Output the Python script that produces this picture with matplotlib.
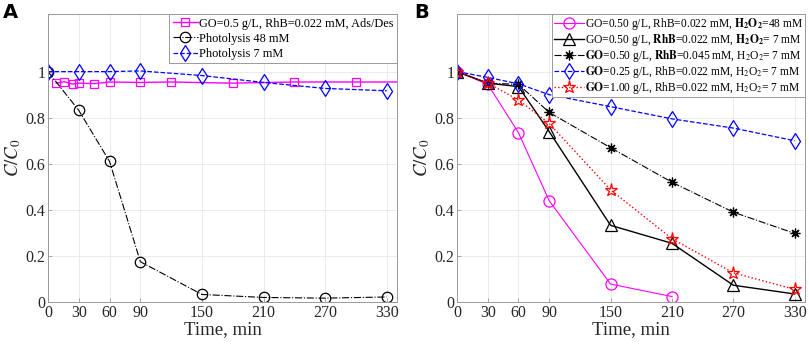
import numpy as np
import matplotlib
matplotlib.use('Agg')
import matplotlib.pyplot as plt

plt.rcParams['font.family'] = ['Liberation Serif', 'DejaVu Serif']
plt.rcParams['mathtext.fontset'] = 'stix'

# Panel A data
t_ads = [8, 16, 24, 30, 45, 60, 90, 120, 180, 240, 300, 360]
c_ads = [0.950, 0.956, 0.946, 0.950, 0.948, 0.955, 0.953, 0.955, 0.950, 0.955, 0.955, 0.955]
t_std = [0, 30, 60, 90, 150, 210, 270, 330]
c_phot48 = [1.0, 0.832, 0.61, 0.175, 0.033, 0.020, 0.017, 0.022]
c_phot7 = [1.0, 1.0, 1.0, 1.003, 0.983, 0.953, 0.927, 0.917]

# Panel B data
t_h48 = [0, 30, 60, 90, 150, 210]
c_h48 = [1.0, 0.945, 0.735, 0.44, 0.078, 0.024]
c_rhb022 = [1.0, 0.95, 0.935, 0.74, 0.333, 0.255, 0.073, 0.035]
c_rhb045 = [1.0, 0.95, 0.945, 0.823, 0.67, 0.52, 0.39, 0.298]
c_go025 = [1.0, 0.975, 0.947, 0.90, 0.848, 0.795, 0.755, 0.70]
c_go100 = [1.0, 0.95, 0.877, 0.775, 0.487, 0.275, 0.127, 0.055]

xticks = [0, 30, 60, 90, 150, 210, 270, 330]
yticks = [0, 0.2, 0.4, 0.6, 0.8, 1]

fig = plt.figure(figsize=(8.09, 3.46), dpi=100)
axA = fig.add_axes([0.0593, 0.127, 0.4314, 0.8325])
axB = fig.add_axes([0.565, 0.127, 0.430, 0.8325])


def style_axes(ax):
    ax.set_xlim(0, 340)
    ax.set_ylim(0, 1.25)
    ax.set_xticks(xticks)
    ax.set_yticks(yticks)
    ax.set_yticklabels(['0', '0.2', '0.4', '0.6', '0.8', '1'])
    ax.grid(True, color='#e8e8e8', linewidth=0.6)
    ax.set_axisbelow(True)
    for s in ax.spines.values():
        s.set_color('#9a9a9a')
        s.set_linewidth(0.7)
    ax.tick_params(direction='in', length=3, width=0.6, color='#9a9a9a',
                   labelsize=11.5, labelcolor='#262626', pad=2)
    ax.set_xlabel('Time, min', fontsize=13.5, color='#262626', labelpad=0)
    ax.set_ylabel('$C/C_0$', fontsize=13.5, color='#262626', labelpad=2)


def style_legend(leg):
    leg.get_frame().set_linewidth(0.7)
    leg.get_frame().set_alpha(1.0)


asterisk = (8, 2, 0)

# Panel A
axA.plot(t_ads, c_ads, '-s', color='#ff00ff', lw=1.0, ms=6, mfc='none', mew=0.9,
         label='GO=0.5 g/L, RhB=0.022 mM, Ads/Des')
axA.plot(t_std, c_phot48, '-.o', color='black', lw=0.8, ms=7.5, mfc='none', mew=0.9,
         label='Photolysis 48 mM')
axA.plot(t_std, c_phot7, '--d', color='#0000ff', lw=0.9, ms=8, mfc='none', mew=0.9,
         label='Photolysis 7 mM')
style_axes(axA)
legA = axA.legend(loc='upper right', fontsize=8.8, frameon=True, fancybox=False,
                  edgecolor='#9a9a9a', framealpha=1, borderpad=0.3, labelspacing=0.25,
                  handlelength=2.0, handletextpad=0.1, borderaxespad=0.0)
style_legend(legA)

# Panel B
axB.plot(t_h48, c_h48, '-o', color='#ff00ff', lw=0.8, ms=8, mfc='none', mew=0.9,
         label=r'GO=0.50 g/L, RhB=0.022 mM, $\mathbf{H_2O_2}$=48 mM')
axB.plot(t_std, c_rhb022, '-^', color='black', lw=1.0, ms=8.5, mfc='none', mew=0.9,
         label=r'GO=0.50 g/L, $\mathbf{RhB}$=0.022 mM, $\mathbf{H_2O_2}$= 7 mM')
axB.plot(t_std, c_rhb045, '-.', marker=asterisk, color='black', lw=0.8, ms=7, mew=0.9,
         label=r'$\mathbf{GO}$=0.50 g/L, $\mathbf{RhB}$=0.045 mM, H$_2$O$_2$= 7 mM')
axB.plot(t_std, c_go025, '--d', color='#0000ff', lw=0.9, ms=8, mfc='none', mew=0.9,
         label=r'$\mathbf{GO}$=0.25 g/L, RhB=0.022 mM, H$_2$O$_2$= 7 mM')
axB.plot(t_std, c_go100, ':*', color='#ff0000', lw=1.0, ms=9.5, mfc='none', mew=0.9,
         label=r'$\mathbf{GO}$=1.00 g/L, RhB=0.022 mM, H$_2$O$_2$= 7 mM')
style_axes(axB)
legB = axB.legend(loc='upper right', fontsize=8.3, frameon=True, fancybox=False,
                  edgecolor='#9a9a9a', framealpha=1, borderpad=0.15, labelspacing=0.0,
                  handlelength=2.6, handletextpad=0.1, borderaxespad=0.0)
style_legend(legB)

fig.text(0.004, 0.965, 'A', fontsize=14, fontweight='bold', family='DejaVu Sans',
         va='center', ha='left')
fig.text(0.512, 0.965, 'B', fontsize=14, fontweight='bold', family='DejaVu Sans',
         va='center', ha='left')

fig.savefig('out.png', dpi=100)
